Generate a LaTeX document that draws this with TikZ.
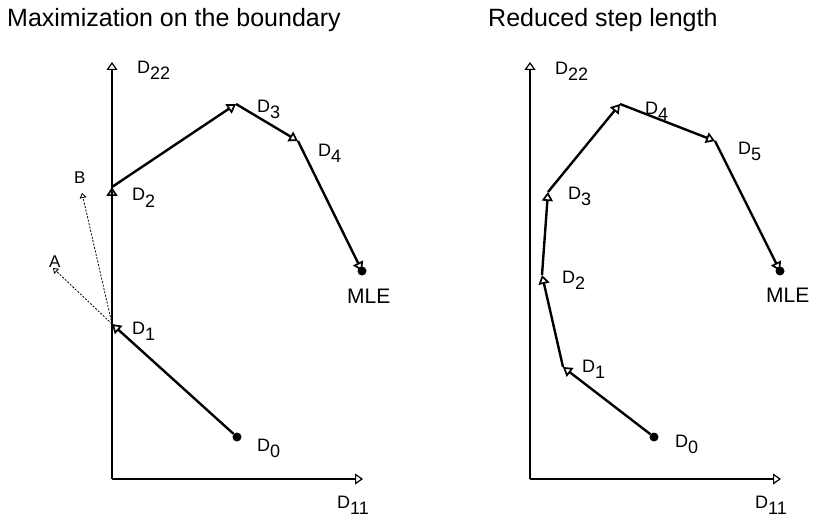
\documentclass[tikz,border=0pt]{standalone}
\usepackage{fontspec}
\setmainfont{Liberation Sans}
\usepackage{tikz}
\usetikzlibrary{arrows.meta}

\newcommand{\dlab}[1]{D\raisebox{-6pt}{#1}}

\begin{document}
\begin{tikzpicture}[
    x=1pt, y=-1pt,
    axis/.style={line width=1.4pt, -{Triangle[open, length=8pt, width=11pt, line width=1.2pt]}},
    seg/.style={line width=2.4pt, -{Triangle[open, length=9pt, width=11pt, line width=1.7pt]}},
    trial/.style={line width=0.8pt, dash pattern=on 2pt off 1.5pt, -{Triangle[open, length=5pt, width=7pt]}},
    lbl/.style={font=\fontsize{18}{18}\selectfont, inner sep=0pt, anchor=base west},
    ttl/.style={font=\fontsize{25}{25}\selectfont, inner sep=0pt, anchor=base west},
    pt/.style={circle, fill, inner sep=0pt, minimum size=9pt}
]
\useasboundingbox (0,0) rectangle (813,521);

% Titles
\node[ttl] (t1) at (7,27) {Maximization on the boundary};
\node[ttl] (t2) at (488,27) {Reduced step length};

% Left panel: axes
\coordinate (lo) at (112,479);
\coordinate (ly) at (112,62);
\coordinate (lx) at (363,479);
\draw[axis] (lo) -- (ly);
\draw[axis] (lo) -- (lx);
\node[lbl] (ly22) at (137,74) {\dlab{22}};
\node[lbl] (lx11) at (337,508) {\dlab{11}};

% Left panel: iterates
\node[pt] (l0) at (237,437) {};
\coordinate (l1) at (112,324);
\coordinate (l2) at (112,187);
\coordinate (l3) at (236,104);
\coordinate (l4) at (298,141);
\node[pt] (lm) at (362,271) {};
\coordinate (la) at (53,268);
\coordinate (lb) at (82,193);

\draw[seg] (l0) -- (l1);
\draw[seg] (l1) -- (l2);
\draw[seg] (l2) -- (l3);
\draw[seg] (l3) -- (l4);
\draw[seg] (l4) -- (lm.center);
\draw[trial] (l1) -- (la);
\draw[trial] (l1) -- (lb);

\node[lbl] (ld0) at (257,451) {\dlab{0}};
\node[lbl] (ld1) at (132,334) {\dlab{1}};
\node[lbl] (ld2) at (132,201) {\dlab{2}};
\node[lbl] (ld3) at (257,113) {\dlab{3}};
\node[lbl] (ld4) at (318,157) {\dlab{4}};
\node[lbl, font=\fontsize{21}{21}\selectfont] (lmle) at (347,303) {MLE};
\node[lbl, font=\fontsize{17}{17}\selectfont] (lA) at (49,267) {A};
\node[lbl, font=\fontsize{17}{17}\selectfont] (lB) at (74,184) {B};

% Right panel: axes
\coordinate (ro) at (530,479);
\coordinate (ry) at (530,62);
\coordinate (rx) at (781,479);
\draw[axis] (ro) -- (ry);
\draw[axis] (ro) -- (rx);
\node[lbl] (ry22) at (555,75) {\dlab{22}};
\node[lbl] (rx11) at (755,508) {\dlab{11}};

% Right panel: iterates
\node[pt] (r0) at (654,437) {};
\coordinate (r1) at (563,367);
\coordinate (r2) at (542,275);
\coordinate (r3) at (548,192);
\coordinate (r4) at (620,104);
\coordinate (r5) at (715,141);
\node[pt] (rm) at (780,271) {};

\draw[seg] (r0) -- (r1);
\draw[seg] (r1) -- (r2);
\draw[seg] (r2) -- (r3);
\draw[seg] (r3) -- (r4);
\draw[seg] (r4) -- (r5);
\draw[seg] (r5) -- (rm.center);

\node[lbl] (rd0) at (675,447) {\dlab{0}};
\node[lbl] (rd1) at (582,372) {\dlab{1}};
\node[lbl] (rd2) at (562,283) {\dlab{2}};
\node[lbl] (rd3) at (568,200) {\dlab{3}};
\node[lbl] (rd4) at (645,115) {\dlab{4}};
\node[lbl] (rd5) at (738,155) {\dlab{5}};
\node[lbl, font=\fontsize{21}{21}\selectfont] (rmle) at (766,302) {MLE};

\end{tikzpicture}
\end{document}
